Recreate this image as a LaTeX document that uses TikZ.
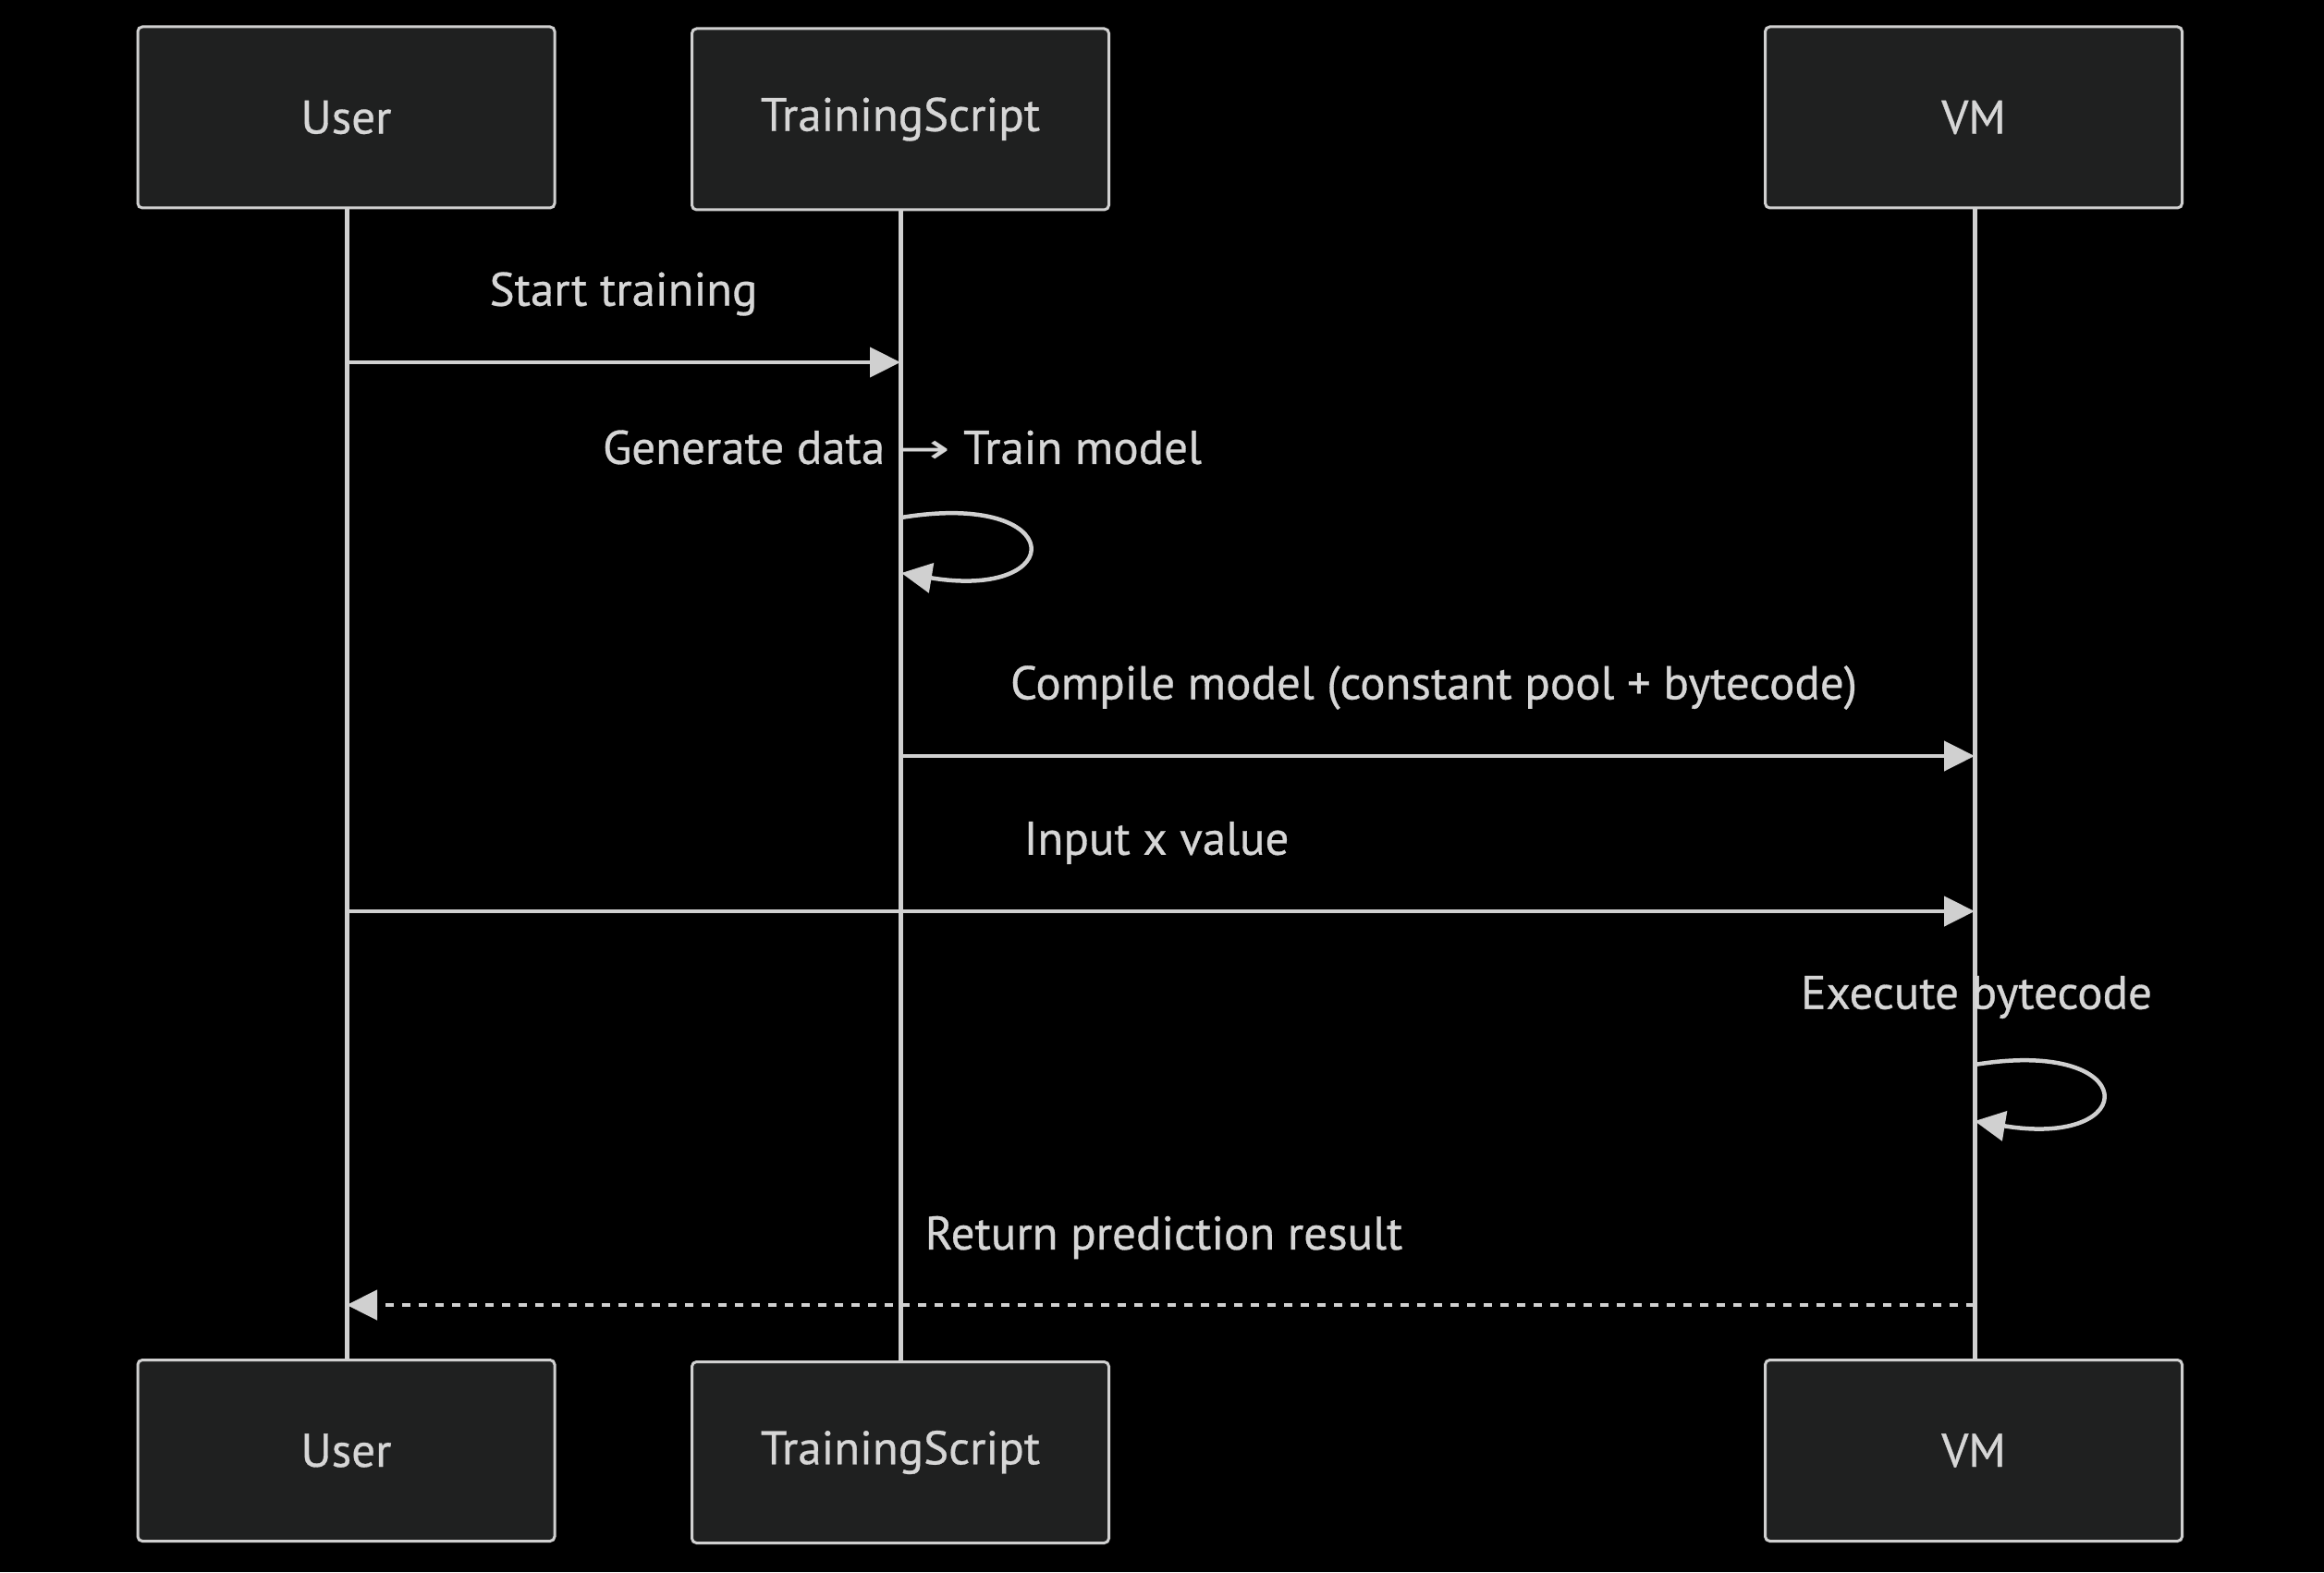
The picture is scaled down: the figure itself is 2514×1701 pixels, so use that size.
\documentclass[tikz,border=0pt]{standalone}
\usepackage{fontspec}
\setmainfont{PT Sans}[FakeBold=0.6]
\newfontfamily\symfont{DejaVu Sans}
\usetikzlibrary{arrows.meta}
\definecolor{bg}{HTML}{000000}
\definecolor{boxfill}{HTML}{1F2020}
\definecolor{ln}{HTML}{D0D0D0}
\definecolor{tx}{HTML}{D6D6D6}
\begin{document}
\begin{tikzpicture}[x=0.5pt,y=-0.5pt,
  actor/.style={draw=ln,fill=boxfill,line width=1.5pt,rounded corners=2.5pt,
    minimum width=225.5pt,minimum height=98pt,inner sep=0pt,
    text=tx,font=\fontsize{25.5}{30}\selectfont},
  lifeline/.style={draw=ln,line width=2.5pt},
  msg/.style={draw=ln,line width=2.25pt,-{Triangle[length=16.5pt,width=16pt]}},
  dmsg/.style={msg,dash pattern=on 4.5pt off 4.5pt},
  lbl/.style={text=tx,font=\fontsize{25.5}{30}\selectfont,inner sep=0pt}]
\fill[bg] (0,0) rectangle (2514,1701);
\useasboundingbox (0,0) rectangle (2514,1701);
% lifelines
\coordinate (uA) at (375,225);
\coordinate (uB) at (375,1472);
\coordinate (tA) at (974,225);
\coordinate (tB) at (974,1472);
\coordinate (vA) at (2136,225);
\coordinate (vB) at (2136,1472);
\draw[lifeline] (uA) -- (uB);
\draw[lifeline] (tA) -- (tB);
\draw[lifeline] (vA) -- (vB);
% actor boxes
\node[actor] (uTop) at (374.5,127) {User};
\node[actor] (tTop) at (974,129) {TrainingScript};
\node[actor] (vTop) at (2135,127) {VM};
\node[actor] (uBot) at (374.5,1569.5) {User};
\node[actor] (tBot) at (974,1571.5) {TrainingScript};
\node[actor] (vBot) at (2135,1569.5) {VM};
% message 1
\coordinate (u1) at (375,392);
\coordinate (t1) at (974,392);
\node[lbl] (m1) at (674.5,318) {Start training};
\draw[msg] (u1) -- (t1);
% self loop 1
\node[lbl] (m2) at (976,484) {Generate data {\symfont\fontsize{23}{28}\selectfont\scalebox{1.5}[1]{→}} Train model};
\coordinate (t2s) at (975,560);
\coordinate (t2e) at (975,620);
\draw[msg] (t2s) .. controls +(182,-30) and +(182,30) .. (t2e);
% message 3
\node[lbl] (m3) at (1551,744) {Compile model (constant pool + bytecode)};
\coordinate (t3) at (974,818);
\coordinate (v3) at (2136,818);
\draw[msg] (t3) -- (v3);
% message 4
\node[lbl] (m4) at (1251,912) {Input x value};
\coordinate (u4) at (375,986);
\coordinate (v4) at (2136,986);
\draw[msg] (u4) -- (v4);
% self loop 2
\node[lbl] (m5) at (2138,1079) {Execute bytecode};
\coordinate (v5s) at (2136,1152);
\coordinate (v5e) at (2136,1213);
\draw[msg] (v5s) .. controls +(182,-30) and +(182,30) .. (v5e);
% message 6
\node[lbl] (m6) at (1259,1339) {Return prediction result};
\coordinate (v6) at (2136,1412);
\coordinate (u6) at (375,1412);
\draw[dmsg] (v6) -- (u6);
\end{tikzpicture}
\end{document}
